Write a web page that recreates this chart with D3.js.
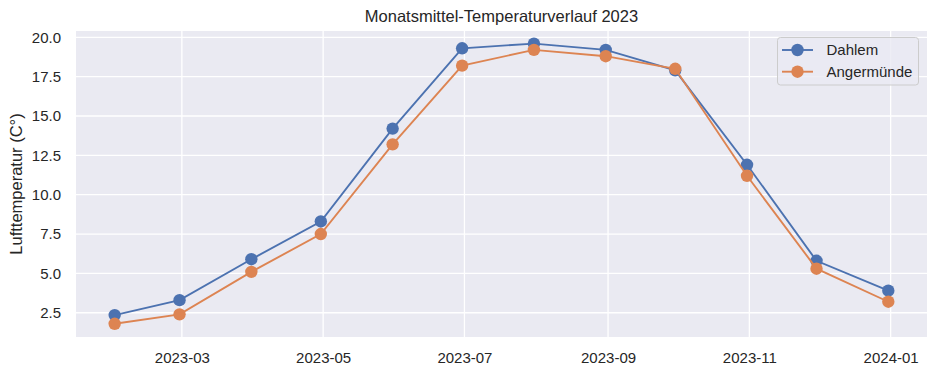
<!DOCTYPE html>
<html><head><meta charset="utf-8">
<script src="https://cdn.jsdelivr.net/npm/d3@7"></script>
<style>body{margin:0;background:#fff}svg{display:block;font-family:"Liberation Sans",Arial,sans-serif}</style>
</head><body><svg id="c" width="937" height="375"></svg>
<script>
const months = ["2023-01-31","2023-02-28","2023-03-31","2023-04-30","2023-05-31","2023-06-30","2023-07-31","2023-08-31","2023-09-30","2023-10-31","2023-11-30","2023-12-31"];
const dahlem = [2.35,3.3,5.9,8.3,14.2,19.3,19.6,19.2,17.9,11.9,5.8,3.9];
const angermuende = [1.8,2.4,5.1,7.5,13.2,18.2,19.2,18.8,18.0,11.2,5.3,3.2];
const seriesNames = ["Dahlem","Angermünde"];
const yTicks = [2.5,5.0,7.5,10.0,12.5,15.0,17.5,20.0];
const xTicks = ["2023-03-01","2023-05-01","2023-07-01","2023-09-01","2023-11-01","2024-01-01"];
const title = "Monatsmittel-Temperaturverlauf 2023";
const yLabel = "Lufttemperatur (C°)";

const parse = d3.utcParse("%Y-%m-%d");
const dates = months.map(parse);
const L=76,R=927,T=31,B=337;
const svg=d3.select("#c");
const t0=dates[0], t1=dates[dates.length-1];
const span=(t1-t0)*0.05;
const x=d3.scaleUtc().domain([new Date(+t0-span), new Date(+t1+span)]).range([L,R]);
const all=dahlem.concat(angermuende);
const mn=d3.min(all), mx=d3.max(all), pad=(mx-mn)*0.05;
const y=d3.scaleLinear().domain([mn-pad+0.05, mx+pad-0.09]).range([B,T]);

svg.append("rect").attr("x",L).attr("y",T).attr("width",R-L).attr("height",B-T).attr("fill","#eaeaf2");
const xt=xTicks.map(parse);
svg.append("g").selectAll("line").data(xt).join("line")
 .attr("x1",d=>x(d)).attr("x2",d=>x(d)).attr("y1",T).attr("y2",B).attr("stroke","#fff").attr("stroke-width",1.3);
svg.append("g").selectAll("line").data(yTicks).join("line")
 .attr("x1",L).attr("x2",R).attr("y1",d=>y(d)).attr("y2",d=>y(d)).attr("stroke","#fff").attr("stroke-width",1.3);

const xa=svg.append("g").attr("transform",`translate(0,${B})`).call(d3.axisBottom(x).tickValues(xt).tickFormat(d3.utcFormat("%Y-%m")).tickSize(0).tickPadding(15));
const ya=svg.append("g").attr("transform",`translate(${L},0)`).call(d3.axisLeft(y).tickValues(yTicks).tickFormat(d3.format(".1f")).tickSize(0).tickPadding(15));
[xa,ya].forEach(a=>{a.select(".domain").remove();a.selectAll("text").attr("font-size",15).attr("fill","#262626").attr("font-family","Liberation Sans, Arial, sans-serif");});

svg.append("text").attr("x",(L+R)/2).attr("y",22).attr("text-anchor","middle").attr("font-size",16.5).attr("fill","#262626").text(title);
svg.append("text").attr("transform",`translate(22,${(T+B)/2}) rotate(-90)`).attr("text-anchor","middle").attr("font-size",16.5).attr("fill","#262626").text(yLabel);

const colors=["#4c72b0","#dd8452"];
const line=d3.line().x((d,i)=>x(dates[i])).y(d=>y(d));
[dahlem,angermuende].forEach((s,k)=>{
  svg.append("path").datum(s).attr("d",line).attr("fill","none").attr("stroke",colors[k]).attr("stroke-width",1.9);
  svg.append("g").selectAll("circle").data(s).join("circle").attr("cx",(d,i)=>x(dates[i])).attr("cy",d=>y(d)).attr("r",6.2).attr("fill",colors[k]);
});

const lg=svg.append("g");
lg.append("rect").attr("x",777.5).attr("y",37.5).attr("width",141).attr("height",47.5).attr("rx",3).attr("fill","#eaeaf2").attr("fill-opacity",0.8).attr("stroke","#cccccc");
seriesNames.forEach((n,k)=>{
  const yy=50+k*21.7;
  lg.append("line").attr("x1",782).attr("x2",813).attr("y1",yy).attr("y2",yy).attr("stroke",colors[k]).attr("stroke-width",1.9);
  lg.append("circle").attr("cx",797.5).attr("cy",yy).attr("r",6.2).attr("fill",colors[k]);
  lg.append("text").attr("x",826.5).attr("y",yy+5.3).attr("font-size",15).attr("fill","#262626").text(n);
});
</script></body></html>
